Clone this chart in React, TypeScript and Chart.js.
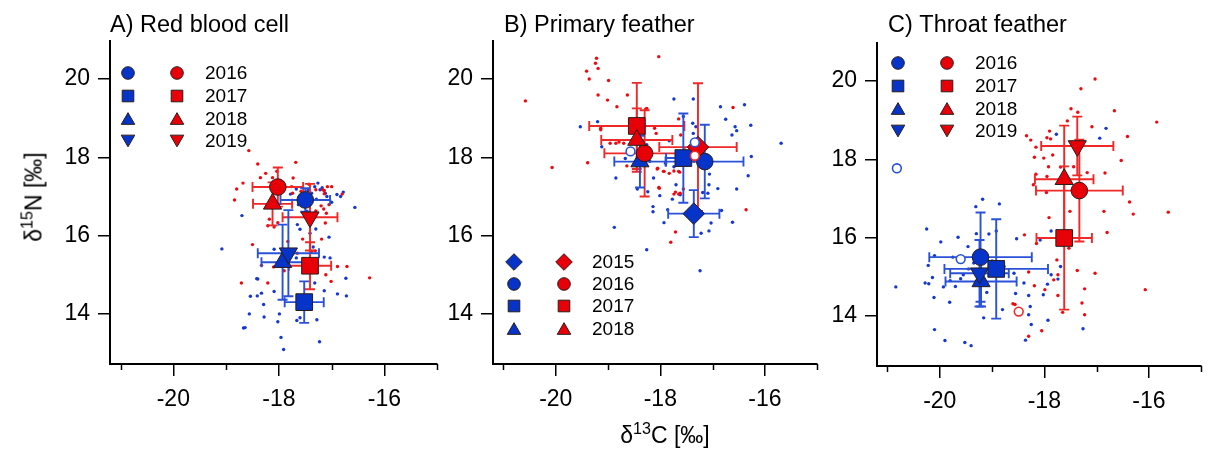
import React, { useEffect, useRef } from 'react';
import { Chart, registerables } from 'chart.js';
Chart.register(...registerables);

const FONT = '"Liberation Sans", Arial, sans-serif';
const BLUE = '#0634c8';
const RED = '#e80008';
const BLUE_DOT = '#1438d0';
const RED_DOT = '#ec0a10';
const BLUE_BAR = '#2a52d8';
const RED_BAR = '#f02828';
const EDGE = '#2a1c1c';

const X_MIN = -21.2;
const X_MAX = -15;
const Y_MIN = 12.72;
const Y_MAX = 20.97;
const X_MAJOR = [-20, -18, -16];
const X_MINOR = [-21, -19, -17, -15];
const Y_MAJOR = [14, 16, 18, 20];

// ---------- Panel A: Red blood cell ----------
const A_YEARS = ['2016', '2017', '2018', '2019'];
const A_SHAPES = ['circle', 'rect', 'triangle', 'triangleDown'];
const A_BLUE_X = [-17.5, -17.52, -17.93, -17.82];
const A_BLUE_Y = [16.91, 14.3, 15.32, 15.55];
const A_BLUE_XERR = [0.47, 0.37, 0.4, 0.58];
const A_BLUE_YERR = [0.3, 0.53, 0.96, 1.1];
const A_RED_X = [-18.02, -17.41, -18.12, -17.41];
const A_RED_Y = [17.24, 15.23, 16.81, 16.47];
const A_RED_XERR = [0.48, 0.4, 0.37, 0.52];
const A_RED_YERR = [0.5, 0.6, 0.55, 0.85];
const A_BLUE_DOTS = [
  [-17.26, 17.34], [-17.32, 17.25], [-17.22, 17.17], [-17.38, 17.08], [-17.09, 17.0], [-17.29, 16.93],
  [-16.78, 17.11], [-16.83, 17.0], [-16.56, 16.72], [-17.78, 17.06], [-17.67, 17.19], [-17.63, 16.79],
  [-17.47, 16.62], [-17.3, 16.17], [-17.6, 16.16], [-17.65, 16.28], [-17.41, 16.06], [-17.05, 15.96],
  [-17.35, 15.71], [-18.7, 16.51], [-19.08, 15.66], [-18.09, 15.65], [-17.67, 15.43], [-17.14, 15.45],
  [-17.03, 15.43], [-16.73, 14.91], [-18.42, 14.9], [-18.09, 14.57], [-18.33, 14.53], [-18.41, 14.46],
  [-18.54, 14.45], [-18.29, 14.24], [-17.14, 14.59], [-16.89, 14.51], [-16.72, 14.46], [-18.56, 14.0],
  [-18.28, 13.92], [-17.99, 14.0], [-18.02, 13.8], [-18.67, 13.64], [-18.64, 13.65], [-17.66, 13.83],
  [-17.6, 13.9], [-17.28, 13.85], [-17.96, 13.4], [-17.23, 13.29], [-17.91, 13.09], [-17.32, 14.79],
  [-17.18, 17.22], [-17.12, 17.08], [-17.45, 17.15], [-17.55, 16.95], [-17.0, 16.85], [-17.4, 16.4],
  [-16.9, 17.05], [-18.4, 14.89],
];
const A_RED_DOTS = [
  [-18.57, 18.17], [-18.4, 17.83], [-17.68, 17.87], [-18.25, 17.59], [-18.68, 17.34], [-18.8, 17.19],
  [-18.84, 16.91], [-18.5, 15.77], [-18.71, 14.79], [-18.21, 14.79], [-18.33, 15.24], [-16.28, 14.92],
  [-16.71, 15.21], [-16.89, 15.21], [-17.01, 14.83], [-17.0, 17.25], [-16.8, 17.06], [-17.14, 17.15],
  [-18.35, 17.48], [-18.12, 17.48], [-17.73, 17.47], [-17.43, 17.31], [-17.08, 17.25], [-17.17, 17.17],
  [-17.3, 17.17], [-17.58, 17.13], [-17.14, 17.07], [-17.05, 16.79], [-17.15, 16.68], [-17.2, 16.76],
  [-17.3, 16.63], [-17.12, 16.32], [-18.09, 16.22], [-18.21, 16.25], [-17.83, 15.85], [-17.65, 15.55],
  [-17.55, 15.91], [-17.19, 15.91], [-17.31, 15.61], [-17.11, 15.0], [-18.02, 16.33], [-18.18, 16.42],
  [-17.76, 17.25], [-17.93, 17.19], [-17.41, 16.36], [-17.74, 17.08], [-18.04, 17.64], [-17.1, 16.57],
  [-17.38, 15.6], [-17.9, 15.1], [-18.1, 15.2],
];

// ---------- Panel B: Primary feather ----------
const B_YEARS = ['2015', '2016', '2017', '2018'];
const B_SHAPES = ['rectRot', 'circle', 'rect', 'triangle'];
const B_BLUE_X = [-17.36, -17.15, -17.56, -18.39];
const B_BLUE_Y = [16.56, 17.89, 17.98, 17.89];
const B_BLUE_XERR = [0.49, 0.74, 0.33, 0.49];
const B_BLUE_YERR = [0.6, 0.94, 1.14, 0.66];
const B_RED_X = [-17.28, -18.3, -18.45, -18.45];
const B_RED_Y = [18.26, 18.1, 18.8, 18.44];
const B_RED_XERR = [0.74, 0.77, 0.91, 0.68];
const B_RED_YERR = [1.63, 1.1, 1.1, 0.81];
const B_BLUE_OPEN = [[-18.57, 18.15], [-17.34, 18.38]];
const B_RED_OPEN = [[-17.34, 18.04]];
const B_BLUE_DOTS = [
  [-19.53, 18.78], [-19.2, 18.91], [-19.12, 18.27], [-18.85, 17.47], [-18.88, 16.21], [-18.26, 15.64],
  [-17.24, 15.1], [-17.74, 19.49], [-17.37, 19.49], [-16.85, 19.29], [-16.75, 18.97], [-16.39, 19.34],
  [-16.27, 18.82], [-16.57, 18.78], [-16.54, 18.68], [-16.63, 18.57], [-15.69, 18.36], [-16.26, 18.02],
  [-16.32, 17.53], [-16.54, 17.19], [-16.62, 16.34], [-16.83, 16.64], [-16.9, 17.2], [-17.07, 17.3],
  [-17.06, 17.57], [-17.09, 17.08], [-17.19, 17.1], [-17.07, 16.12], [-17.22, 16.06], [-17.93, 16.33],
  [-17.77, 16.93], [-17.62, 17.04], [-17.86, 16.66], [-18.14, 16.74], [-18.14, 16.61], [-18.01, 17.02],
  [-18.24, 17.12], [-18.44, 17.19], [-18.13, 17.47], [-18.26, 18.32], [-17.83, 18.42], [-17.56, 19.04],
  [-17.32, 18.78], [-18.67, 17.97], [-17.74, 17.76], [-17.03, 16.32], [-17.38, 18.87], [-17.37, 18.61],
  [-17.9, 17.85], [-18.2, 17.9], [-17.7, 17.3],
];
const B_RED_DOTS = [
  [-20.58, 19.44], [-20.07, 17.74], [-19.39, 17.86], [-19.41, 20.2], [-19.36, 20.0], [-19.24, 20.4],
  [-19.22, 20.53], [-19.19, 20.27], [-19.19, 19.59], [-19.14, 18.74], [-19.01, 19.46], [-18.99, 19.96],
  [-18.83, 19.29], [-18.03, 20.57], [-18.63, 19.59], [-16.61, 19.27], [-16.36, 16.66], [-17.15, 17.85],
  [-17.8, 15.83], [-17.71, 16.09], [-18.26, 19.25], [-19.14, 18.7], [-18.79, 18.39], [-18.7, 18.36],
  [-18.08, 18.61], [-18.64, 17.78], [-18.06, 17.7], [-17.93, 17.64], [-17.83, 17.59], [-17.74, 17.65],
  [-17.65, 17.64], [-18.02, 17.21], [-17.74, 17.06], [-17.65, 17.06], [-18.96, 18.36], [-18.28, 19.23],
  [-18.11, 18.74], [-18.85, 18.36], [-17.65, 18.98], [-17.61, 18.57], [-17.94, 17.64], [-17.63, 17.62],
  [-18.05, 17.72], [-18.03, 17.23], [-17.71, 17.11], [-17.62, 17.08], [-17.56, 17.19], [-17.36, 17.9],
  [-17.5, 17.8],
];

// ---------- Panel C: Throat feather ----------
const C_YEARS = ['2016', '2017', '2018', '2019'];
const C_SHAPES = ['circle', 'rect', 'triangle', 'triangleDown'];
const C_BLUE_X = [-19.22, -18.92, -19.21, -19.24];
const C_BLUE_Y = [15.5, 15.2, 14.88, 15.09];
const C_BLUE_XERR = [0.98, 0.99, 0.68, 0.56];
const C_BLUE_YERR = [1.14, 1.27, 0.64, 0.85];
const C_RED_X = [-17.33, -17.62, -17.62, -17.37];
const C_RED_Y = [17.2, 15.99, 17.49, 18.34];
const C_RED_XERR = [0.83, 0.53, 0.56, 0.69];
const C_RED_YERR = [1.3, 1.83, 1.37, 0.75];
const C_BLUE_OPEN = [[-20.82, 17.77], [-19.6, 15.45]];
const C_RED_OPEN = [[-18.49, 14.11]];
const C_BLUE_DOTS = [
  [-20.84, 14.74], [-20.25, 16.22], [-19.98, 15.89], [-19.65, 16.01], [-19.46, 15.77], [-19.31, 16.79],
  [-19.18, 16.98], [-18.86, 16.86], [-18.92, 16.17], [-19.06, 16.09], [-20.1, 15.54], [-20.22, 15.29],
  [-20.28, 14.84], [-20.21, 14.82], [-20.14, 14.98], [-20.11, 14.47], [-19.93, 14.74], [-20.1, 13.65],
  [-19.9, 13.37], [-19.52, 13.32], [-19.4, 13.24], [-19.81, 14.35], [-19.7, 14.75], [-19.6, 14.95],
  [-19.16, 13.95], [-18.8, 14.16], [-18.77, 15.26], [-18.58, 15.09], [-18.53, 15.97], [-18.39, 14.84],
  [-18.55, 14.57], [-18.3, 14.52], [-18.27, 14.24], [-18.3, 14.03], [-18.25, 13.78], [-18.36, 13.38],
  [-18.02, 14.54], [-17.93, 13.89], [-17.94, 14.81], [-17.87, 15.05], [-17.74, 14.94], [-17.69, 15.26],
  [-17.87, 16.17], [-18.08, 15.94], [-17.26, 13.67], [-17.77, 18.64], [-16.94, 18.54], [-16.82, 18.79],
  [-19.75, 15.5], [-19.45, 15.2], [-19.55, 15.05], [-19.35, 15.35], [-19.0, 15.4], [-19.8, 14.9],
  [-19.1, 14.6], [-19.3, 16.1],
];
const C_RED_DOTS = [
  [-17.03, 20.05], [-17.3, 19.8], [-17.49, 19.29], [-17.36, 19.2], [-16.66, 19.24], [-17.56, 18.98],
  [-15.85, 18.95], [-17.09, 18.83], [-16.41, 18.58], [-17.9, 18.72], [-18.34, 18.6], [-18.26, 18.49],
  [-17.95, 18.55], [-17.88, 18.52], [-18.16, 18.31], [-17.84, 18.11], [-18.19, 18.05], [-18.01, 18.03],
  [-16.53, 17.97], [-17.92, 17.81], [-17.69, 17.8], [-17.44, 17.81], [-16.84, 17.65], [-17.18, 17.66],
  [-18.16, 17.62], [-17.95, 17.56], [-18.21, 17.35], [-17.96, 17.15], [-16.37, 16.91], [-16.3, 16.6],
  [-15.63, 16.65], [-16.86, 16.67], [-17.51, 16.67], [-17.91, 16.51], [-16.8, 16.13], [-18.38, 16.07],
  [-18.15, 15.85], [-17.53, 15.73], [-17.37, 15.16], [-17.03, 15.09], [-17.76, 15.43], [-17.74, 15.05],
  [-18.3, 15.12], [-17.82, 14.92], [-17.99, 14.67], [-18.19, 14.77], [-17.23, 14.69], [-16.07, 14.67],
  [-17.74, 14.52], [-17.28, 14.33], [-17.23, 14.03], [-17.65, 14.09], [-18.05, 13.62], [-18.3, 13.48],
  [-18.56, 14.29], [-18.6, 14.31],
];

const MARKER_R: Record<string, number> = { circle: 8.3, rect: 11.8, triangle: 10.5, triangleDown: 10.5, rectRot: 10.8 };
const LEGEND_R: Record<string, number> = { circle: 6.3, rect: 8.2, triangle: 7.8, triangleDown: 7.8, rectRot: 8.3 };

type Panel = {
  key: string; title: string; canvasLeft: number; canvasWidth: number;
  areaTop: number; areaBottom: number; areaLeft: number; areaRight: number;
  titleX: number; titleBaseline: number;
  years: string[]; shapes: string[];
  blueX: number[]; blueY: number[]; blueXErr: number[]; blueYErr: number[];
  redX: number[]; redY: number[]; redXErr: number[]; redYErr: number[];
  blueDots: number[][]; redDots: number[][]; blueOpen: number[][]; redOpen: number[][];
  legBlueX: number; legRedX: number; legTextX: number; legRows: number[];
};

const PANELS: Panel[] = [
  {
    key: 'A', title: 'A) Red blood cell', canvasLeft: 0, canvasWidth: 450,
    areaTop: 41, areaBottom: 364, areaLeft: 110, areaRight: 445, titleX: 110, titleBaseline: 32,
    years: A_YEARS, shapes: A_SHAPES,
    blueX: A_BLUE_X, blueY: A_BLUE_Y, blueXErr: A_BLUE_XERR, blueYErr: A_BLUE_YERR,
    redX: A_RED_X, redY: A_RED_Y, redXErr: A_RED_XERR, redYErr: A_RED_YERR,
    blueDots: A_BLUE_DOTS, redDots: A_RED_DOTS, blueOpen: [], redOpen: [],
    legBlueX: 128, legRedX: 177, legTextX: 205, legRows: [73, 96, 118.5, 141],
  },
  {
    key: 'B', title: 'B) Primary feather', canvasLeft: 400, canvasWidth: 430,
    areaTop: 41, areaBottom: 364, areaLeft: 493, areaRight: 827, titleX: 504, titleBaseline: 32,
    years: B_YEARS, shapes: B_SHAPES,
    blueX: B_BLUE_X, blueY: B_BLUE_Y, blueXErr: B_BLUE_XERR, blueYErr: B_BLUE_YERR,
    redX: B_RED_X, redY: B_RED_Y, redXErr: B_RED_XERR, redYErr: B_RED_YERR,
    blueDots: B_BLUE_DOTS, redDots: B_RED_DOTS, blueOpen: B_BLUE_OPEN, redOpen: B_RED_OPEN,
    legBlueX: 514, legRedX: 564, legTextX: 592, legRows: [262, 284, 306, 328.5],
  },
  {
    key: 'C', title: 'C) Throat feather', canvasLeft: 790, canvasWidth: 424,
    areaTop: 43, areaBottom: 366, areaLeft: 877, areaRight: 1211, titleX: 888, titleBaseline: 32,
    years: C_YEARS, shapes: C_SHAPES,
    blueX: C_BLUE_X, blueY: C_BLUE_Y, blueXErr: C_BLUE_XERR, blueYErr: C_BLUE_YERR,
    redX: C_RED_X, redY: C_RED_Y, redXErr: C_RED_XERR, redYErr: C_RED_YERR,
    blueDots: C_BLUE_DOTS, redDots: C_RED_DOTS, blueOpen: C_BLUE_OPEN, redOpen: C_RED_OPEN,
    legBlueX: 898, legRedX: 947, legTextX: 975, legRows: [63, 86, 108.5, 131],
  },
];

function drawShape(ctx: CanvasRenderingContext2D, shape: string, x: number, y: number, r: number) {
  ctx.beginPath();
  if (shape === 'circle') {
    ctx.arc(x, y, r, 0, Math.PI * 2);
  } else if (shape === 'rect') {
    const s = r * Math.SQRT1_2;
    ctx.rect(x - s, y - s, 2 * s, 2 * s);
  } else if (shape === 'rectRot') {
    ctx.moveTo(x, y - r); ctx.lineTo(x + r, y); ctx.lineTo(x, y + r); ctx.lineTo(x - r, y);
    ctx.closePath();
  } else if (shape === 'triangle') {
    const h = 1.5 * r; const w = r * Math.sqrt(3) / 2;
    ctx.moveTo(x, y - h / 2); ctx.lineTo(x + w, y + h / 2); ctx.lineTo(x - w, y + h / 2);
    ctx.closePath();
  } else if (shape === 'triangleDown') {
    const h = 1.5 * r; const w = r * Math.sqrt(3) / 2;
    ctx.moveTo(x, y + h / 2); ctx.lineTo(x + w, y - h / 2); ctx.lineTo(x - w, y - h / 2);
    ctx.closePath();
  }
  ctx.fill();
  ctx.stroke();
}

function drawErrorBars(chart: any) {
  const ctx: CanvasRenderingContext2D = chart.ctx;
  const xs = chart.scales.x;
  const ys = chart.scales.y;
  const CAP = 5;
  ctx.save();
  ctx.lineWidth = 1.9;
  chart.data.datasets.forEach((ds: any) => {
    if (!ds.summary) return;
    ctx.strokeStyle = ds.barColor;
    ds.data.forEach((pt: any, i: number) => {
      const x = xs.getPixelForValue(pt.x);
      const y = ys.getPixelForValue(pt.y);
      const x0 = xs.getPixelForValue(pt.x - ds.xErr[i]);
      const x1 = xs.getPixelForValue(pt.x + ds.xErr[i]);
      const y0 = ys.getPixelForValue(pt.y - ds.yErr[i]);
      const y1 = ys.getPixelForValue(pt.y + ds.yErr[i]);
      ctx.beginPath();
      ctx.moveTo(x0, y); ctx.lineTo(x1, y);
      ctx.moveTo(x0, y - CAP); ctx.lineTo(x0, y + CAP);
      ctx.moveTo(x1, y - CAP); ctx.lineTo(x1, y + CAP);
      ctx.moveTo(x, y0); ctx.lineTo(x, y1);
      ctx.moveTo(x - CAP, y0); ctx.lineTo(x + CAP, y0);
      ctx.moveTo(x - CAP, y1); ctx.lineTo(x + CAP, y1);
      ctx.stroke();
    });
  });
  ctx.restore();
}

function makeDecor(p: Panel) {
  return {
    id: 'decor' + p.key,
    beforeDatasetsDraw(chart: any) { chart.$barsDone = false; },
    beforeDatasetDraw(chart: any, args: any) {
      const ds = chart.data.datasets[args.index];
      if (ds.summary && !chart.$barsDone) { drawErrorBars(chart); chart.$barsDone = true; }
    },
    afterDraw(chart: any) {
      const ctx: CanvasRenderingContext2D = chart.ctx;
      const xs = chart.scales.x;
      const bottom = chart.chartArea.bottom;
      ctx.save();
      // minor ticks
      ctx.strokeStyle = '#000';
      ctx.lineWidth = 1.5;
      X_MINOR.forEach((v) => {
        const px = Math.round(xs.getPixelForValue(v)) + 0.5;
        ctx.beginPath(); ctx.moveTo(px, bottom); ctx.lineTo(px, bottom + 6); ctx.stroke();
      });
      // title
      const off = p.canvasLeft;
      ctx.fillStyle = '#000';
      ctx.font = '23.5px ' + FONT;
      ctx.textAlign = 'left';
      ctx.textBaseline = 'alphabetic';
      ctx.fillText(p.title, p.titleX - off, p.titleBaseline);
      // legend
      ctx.font = '19px ' + FONT;
      ctx.textBaseline = 'middle';
      ctx.lineWidth = 1;
      ctx.strokeStyle = EDGE;
      p.years.forEach((yr, i) => {
        const ry = p.legRows[i];
        const sh = p.shapes[i];
        const r = LEGEND_R[sh];
        ctx.fillStyle = BLUE;
        drawShape(ctx, sh, p.legBlueX - off, ry, r);
        ctx.fillStyle = RED;
        drawShape(ctx, sh, p.legRedX - off, ry, r);
        ctx.fillStyle = '#000';
        ctx.fillText(yr, p.legTextX - off, ry + 1);
      });
      ctx.restore();
    },
  };
}

function buildConfig(p: Panel): any {
  const styleOf = (s: string) => (s === 'triangleDown' ? 'triangle' : s);
  const rotOf = (s: string) => (s === 'triangleDown' ? 180 : 0);
  const summary = (xs: number[], ys: number[], xe: number[], ye: number[], fill: string, bar: string) => ({
    data: xs.map((x, i) => ({ x, y: ys[i] })),
    summary: true, xErr: xe, yErr: ye, barColor: bar,
    showLine: false,
    pointStyle: p.shapes.map(styleOf),
    pointRotation: p.shapes.map(rotOf),
    pointRadius: p.shapes.map((s) => MARKER_R[s]),
    pointBackgroundColor: fill,
    pointBorderColor: EDGE,
    pointBorderWidth: 1,
  });
  const dots = (pts: number[][], color: string) => ({
    data: pts.map((d) => ({ x: d[0], y: d[1] })),
    showLine: false,
    pointStyle: 'circle',
    pointRadius: 1.7,
    pointBackgroundColor: color,
    pointBorderWidth: 0,
    pointBorderColor: color,
  });
  const open = (pts: number[][], color: string) => ({
    data: pts.map((d) => ({ x: d[0], y: d[1] })),
    showLine: false,
    pointStyle: 'circle',
    pointRadius: 4.4,
    pointBackgroundColor: '#fff',
    pointBorderWidth: 1.6,
    pointBorderColor: color,
  });
  const datasets = [
    open(p.blueOpen, BLUE_BAR),
    open(p.redOpen, RED_BAR),
    summary(p.redX, p.redY, p.redXErr, p.redYErr, RED, RED_BAR),
    summary(p.blueX, p.blueY, p.blueXErr, p.blueYErr, BLUE, BLUE_BAR),
    dots(p.redDots, RED_DOT),
    dots(p.blueDots, BLUE_DOT),
  ];
  const yWidth = p.areaLeft - p.canvasLeft;
  const xHeight = 452 - p.areaBottom;
  const padRight = p.canvasLeft + p.canvasWidth - p.areaRight;
  const tickFont = { family: FONT, size: 23 };
  return {
    type: 'scatter',
    data: { datasets },
    options: {
      animation: false,
      responsive: false,
      maintainAspectRatio: false,
      devicePixelRatio: 1,
      events: [],
      layout: { padding: { top: p.areaTop, right: padRight, left: 0, bottom: 0 } },
      plugins: { legend: { display: false }, tooltip: { enabled: false }, title: { display: false } },
      scales: {
        x: {
          type: 'linear', min: X_MIN, max: X_MAX,
          afterBuildTicks: (s: any) => { s.ticks = X_MAJOR.map((v) => ({ value: v })); },
          afterFit: (s: any) => { s.height = xHeight; },
          ticks: { font: tickFont, color: '#000', padding: 10, autoSkip: false, maxRotation: 0, callback: (v: any) => String(v) },
          grid: { drawOnChartArea: false, drawTicks: true, tickLength: 12, color: '#000', lineWidth: 1.5 },
          border: { display: true, color: '#000', width: 2 },
        },
        y: {
          type: 'linear', min: Y_MIN, max: Y_MAX,
          afterBuildTicks: (s: any) => { s.ticks = Y_MAJOR.map((v) => ({ value: v })); },
          afterFit: (s: any) => { s.width = yWidth; },
          ticks: { font: tickFont, color: '#000', padding: 8, autoSkip: false, callback: (v: any) => String(v) },
          grid: { drawOnChartArea: false, drawTicks: true, tickLength: 12, color: '#000', lineWidth: 1.5 },
          border: { display: true, color: '#000', width: 2 },
        },
      },
    },
    plugins: [makeDecor(p)],
  };
}

function PanelChart({ panel }: { panel: Panel }) {
  const ref = useRef<HTMLCanvasElement>(null);
  useEffect(() => {
    const chart = new Chart(ref.current as HTMLCanvasElement, buildConfig(panel));
    return () => chart.destroy();
  }, [panel]);
  return (
    <canvas
      ref={ref}
      width={panel.canvasWidth}
      height={452}
      style={{ position: 'absolute', left: panel.canvasLeft, top: 0, width: panel.canvasWidth, height: 452 }}
    />
  );
}

const supStyle: React.CSSProperties = { fontSize: '0.7em', verticalAlign: 'super', lineHeight: 0 };

export default function App() {
  return (
    <div style={{ position: 'absolute', left: 0, top: 0, width: 1208, height: 452, overflow: 'hidden', background: '#fff', fontFamily: FONT }}>
      {PANELS.map((p) => <PanelChart key={p.key} panel={p} />)}
      <div style={{ position: 'absolute', left: 34, top: 197, transform: 'translate(-50%, -50%) rotate(-90deg)', fontSize: 23, lineHeight: '25px', whiteSpace: 'nowrap', color: '#000' }}>
        δ<sup style={supStyle}>15</sup>N [‰]
      </div>
      <div style={{ position: 'absolute', left: 665, top: 435, transform: 'translate(-50%, -50%)', fontSize: 23, lineHeight: '25px', whiteSpace: 'nowrap', color: '#000' }}>
        δ<sup style={supStyle}>13</sup>C [‰]
      </div>
    </div>
  );
}
